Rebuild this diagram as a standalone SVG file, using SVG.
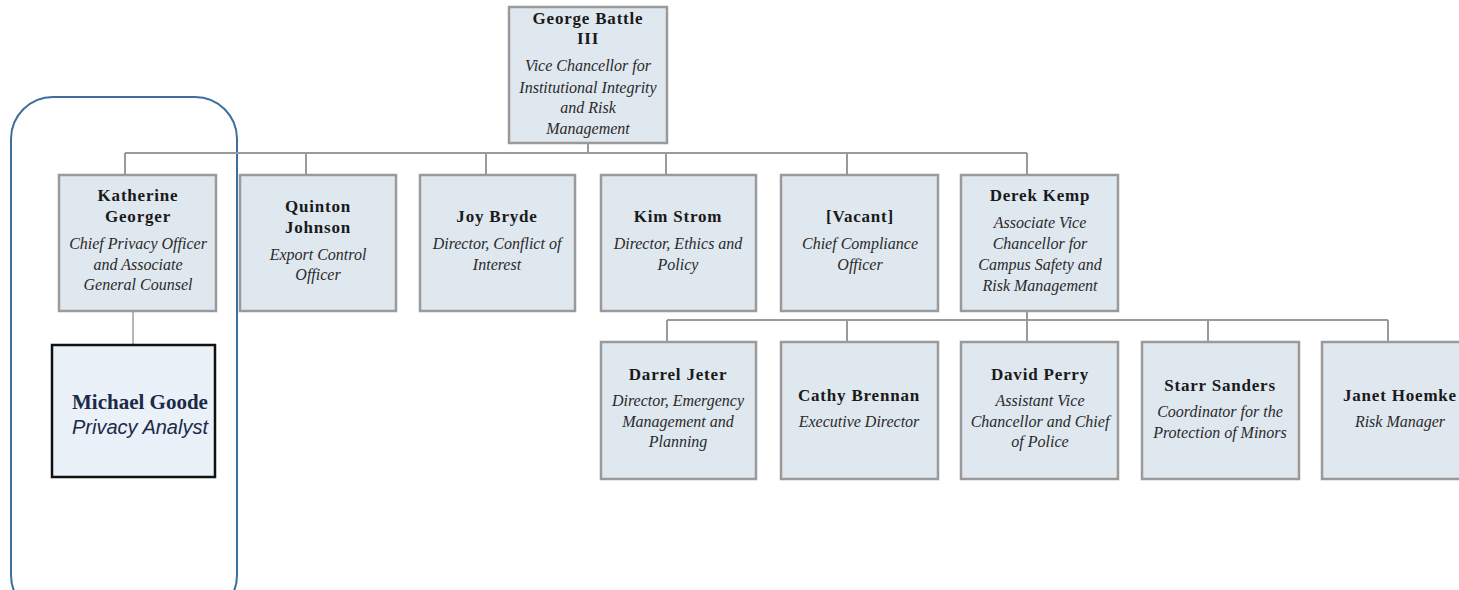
<svg xmlns="http://www.w3.org/2000/svg" width="1459" height="590" viewBox="0 0 1459 590">
  <style>
    .box { fill: #dfe7ef; stroke: #9a9a9a; stroke-width: 2.5; }
    .name { font-family: "Liberation Serif", "Times New Roman", serif; font-weight: bold; font-size: 17px; letter-spacing: 0.8px; fill: #1a1a1a; text-anchor: middle; }
    .role { font-family: "Liberation Serif", "Times New Roman", serif; font-style: italic; font-size: 16px; fill: #2a2a2a; text-anchor: middle; }
    .link { fill: none; stroke: #9a9a9a; stroke-width: 2; }
  </style>
  <rect width="1459" height="590" fill="#ffffff"/>

  <!-- highlight frame around the privacy office -->
  <rect x="11" y="97" width="226" height="520" rx="42" ry="42" fill="none" stroke="#3d6f9c" stroke-width="2"/>

  <g id="connectors">
    <path class="link" d="M588 143 V153 M125 153 H1027 M125 153 V175 M306 153 V175 M486 153 V175 M666 153 V175 M847 153 V175 M1027 153 V175"/>
    <path class="link" d="M1027 311 V320 M667 320 H1388 M667 320 V342 M847 320 V342 M1027 320 V342 M1208 320 V342 M1388 320 V342"/>
    <path d="M133 308 V345" fill="none" stroke="#707070" stroke-width="1"/>
  </g>

  <g id="george-battle">
    <rect class="box" x="509" y="7" width="158" height="136"/>
    <text class="name" x="588" y="24">George Battle</text>
    <text class="name" x="588" y="44">III</text>
    <text class="role" x="588" y="71">Vice Chancellor for</text>
    <text class="role" x="588" y="93">Institutional Integrity</text>
    <text class="role" x="588" y="113">and Risk</text>
    <text class="role" x="588" y="134">Management</text>
  </g>

  <g id="katherine-georger">
    <rect class="box" x="59" y="175" width="157" height="136"/>
    <text class="name" x="138" y="201">Katherine</text>
    <text class="name" x="138" y="222">Georger</text>
    <text class="role" x="138" y="249">Chief Privacy Officer</text>
    <text class="role" x="138" y="270">and Associate</text>
    <text class="role" x="138" y="290">General Counsel</text>
  </g>

  <g id="quinton-johnson">
    <rect class="box" x="240" y="175" width="156" height="136"/>
    <text class="name" x="318" y="212">Quinton</text>
    <text class="name" x="318" y="233">Johnson</text>
    <text class="role" x="318" y="260">Export Control</text>
    <text class="role" x="318" y="280">Officer</text>
  </g>

  <g id="joy-bryde">
    <rect class="box" x="420" y="175" width="155" height="136"/>
    <text class="name" x="497" y="222">Joy Bryde</text>
    <text class="role" x="497" y="249">Director, Conflict of</text>
    <text class="role" x="497" y="270">Interest</text>
  </g>

  <g id="kim-strom">
    <rect class="box" x="601" y="175" width="155" height="136"/>
    <text class="name" x="678" y="222">Kim Strom</text>
    <text class="role" x="678" y="249">Director, Ethics and</text>
    <text class="role" x="678" y="270">Policy</text>
  </g>

  <g id="vacant">
    <rect class="box" x="781" y="175" width="157" height="136"/>
    <text class="name" x="860" y="222">[Vacant]</text>
    <text class="role" x="860" y="249">Chief Compliance</text>
    <text class="role" x="860" y="270">Officer</text>
  </g>

  <g id="derek-kemp">
    <rect class="box" x="961" y="175" width="157" height="136"/>
    <text class="name" x="1040" y="201">Derek Kemp</text>
    <text class="role" x="1040" y="228">Associate Vice</text>
    <text class="role" x="1040" y="249">Chancellor for</text>
    <text class="role" x="1040" y="270">Campus Safety and</text>
    <text class="role" x="1040" y="291">Risk Management</text>
  </g>

  <g id="michael-goode">
    <rect x="52" y="345" width="163" height="132" fill="#eaf1f8" stroke="#111111" stroke-width="2.5"/>
    <text x="72" y="409" font-family="Liberation Serif, Times New Roman, serif" font-weight="bold" font-size="21" fill="#1c2a48">Michael Goode</text>
    <text x="72" y="434" font-family="Liberation Sans, Arial, sans-serif" font-style="italic" font-size="20" fill="#1c2a48">Privacy Analyst</text>
  </g>

  <g id="darrel-jeter">
    <rect class="box" x="601" y="342" width="155" height="137"/>
    <text class="name" x="678" y="380">Darrel Jeter</text>
    <text class="role" x="678" y="406">Director, Emergency</text>
    <text class="role" x="678" y="427">Management and</text>
    <text class="role" x="678" y="447">Planning</text>
  </g>

  <g id="cathy-brennan">
    <rect class="box" x="781" y="342" width="157" height="137"/>
    <text class="name" x="859" y="401">Cathy Brennan</text>
    <text class="role" x="859" y="427">Executive Director</text>
  </g>

  <g id="david-perry">
    <rect class="box" x="961" y="342" width="157" height="137"/>
    <text class="name" x="1040" y="380">David Perry</text>
    <text class="role" x="1040" y="406">Assistant Vice</text>
    <text class="role" x="1040" y="427">Chancellor and Chief</text>
    <text class="role" x="1040" y="447">of Police</text>
  </g>

  <g id="starr-sanders">
    <rect class="box" x="1142" y="342" width="157" height="137"/>
    <text class="name" x="1220" y="391">Starr Sanders</text>
    <text class="role" x="1220" y="417">Coordinator for the</text>
    <text class="role" x="1220" y="438">Protection of Minors</text>
  </g>

  <g id="janet-hoemke">
    <rect class="box" x="1322" y="342" width="158" height="137"/>
    <text class="name" x="1400" y="401">Janet Hoemke</text>
    <text class="role" x="1400" y="427">Risk Manager</text>
  </g>
</svg>
